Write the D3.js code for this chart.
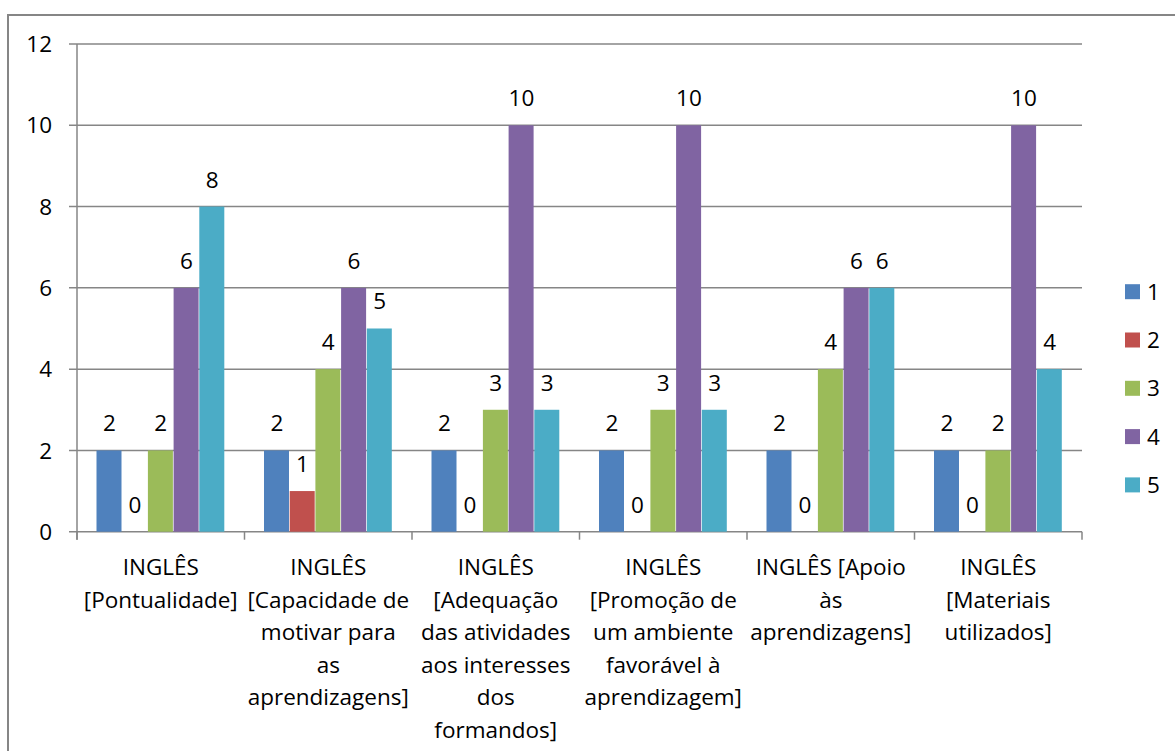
<!DOCTYPE html>
<html><head><meta charset="utf-8">
<script src="https://cdn.jsdelivr.net/npm/d3@7"></script>
<style>body{margin:0;background:#fff}svg{display:block}text{font-family:"Open Sans",Lato,sans-serif;fill:#000}</style>
</head><body><svg id="c" width="1175" height="751"></svg>
<script>
const categories = [
  ["INGLÊS","[Pontualidade]"],
  ["INGLÊS","[Capacidade de","motivar para","as","aprendizagens]"],
  ["INGLÊS","[Adequação","das atividades","aos interesses","dos","formandos]"],
  ["INGLÊS","[Promoção de","um ambiente","favorável à","aprendizagem]"],
  ["INGLÊS [Apoio","às","aprendizagens]"],
  ["INGLÊS","[Materiais","utilizados]"]
];
const seriesNames = ["1","2","3","4","5"];
const s1 = [2,2,2,2,2,2];
const s2 = [0,1,0,0,0,0];
const s3 = [2,4,3,3,4,2];
const s4 = [6,6,10,10,6,10];
const s5 = [8,5,3,3,6,4];
const yTicks = [0,2,4,6,8,10,12];
const colors = ["#4F81BD","#C0504D","#9BBB59","#8064A2","#4BACC6"];
const series = [s1,s2,s3,s4,s5];

const FS = 22.5;
const svg = d3.select("#c");
const L=77, R=1082, T=44, B=531.7;
const x0 = d3.scaleBand().domain(d3.range(categories.length)).range([L,R]);
const pad = 19.5;
const x1 = d3.scaleBand().domain(d3.range(series.length)).range([pad,x0.bandwidth()-pad]);
const y = d3.scaleLinear().domain([0,12]).range([B,T]);

// outer border
svg.append("rect").attr("x",8).attr("y",15).attr("width",1200).attr("height",800)
  .attr("fill","none").attr("stroke","#868686").attr("stroke-width",2);

// gridlines
svg.append("g").selectAll("line").data(yTicks).join("line")
  .attr("x1",L-8).attr("x2",R).attr("y1",d=>y(d)).attr("y2",d=>y(d))
  .attr("stroke","#868686").attr("stroke-width",1.5);
// y axis line
svg.append("line").attr("x1",L).attr("x2",L).attr("y1",T).attr("y2",B+8).attr("stroke","#868686").attr("stroke-width",1.5);
// x ticks
svg.append("g").selectAll("line").data(d3.range(categories.length+1)).join("line")
  .attr("x1",d=>L+d*x0.bandwidth()).attr("x2",d=>L+d*x0.bandwidth())
  .attr("y1",B).attr("y2",B+8).attr("stroke","#868686").attr("stroke-width",1.5);

// y labels
svg.append("g").selectAll("text").data(yTicks).join("text")
  .attr("x",52).attr("y",d=>y(d)).attr("dy","0.36em").attr("text-anchor","end")
  .attr("font-size",FS).text(d=>d);

// bars
const g = svg.append("g");
series.forEach((s,si)=>{
  g.append("g").selectAll("rect").data(s).join("rect")
    .attr("x",(d,i)=>x0(i)+x1(si)).attr("width",x1.bandwidth()-0.7)
    .attr("y",d=>y(d)).attr("height",d=>B-y(d)).attr("fill",colors[si]);
  g.append("g").selectAll("text").data(s).join("text")
    .attr("x",(d,i)=>x0(i)+x1(si)+x1.bandwidth()/2).attr("y",d=>y(d)-19)
    .attr("text-anchor","middle").attr("font-size",FS).text(d=>d);
});

// category labels
categories.forEach((lines,i)=>{
  const t = svg.append("text").attr("text-anchor","middle").attr("font-size",FS);
  lines.forEach((ln,j)=>{
    t.append("tspan").attr("x",x0(i)+x0.bandwidth()/2).attr("y",575+j*32.5).text(ln);
  });
});

// legend
const lg = svg.append("g");
seriesNames.forEach((n,i)=>{
  const cy = 291.7 + i*48.3;
  lg.append("rect").attr("x",1125).attr("y",cy-7.5).attr("width",15).attr("height",15).attr("fill",colors[i]);
  lg.append("text").attr("x",1147).attr("y",cy).attr("dy","0.36em").attr("font-size",FS).text(n);
});
</script></body></html>
